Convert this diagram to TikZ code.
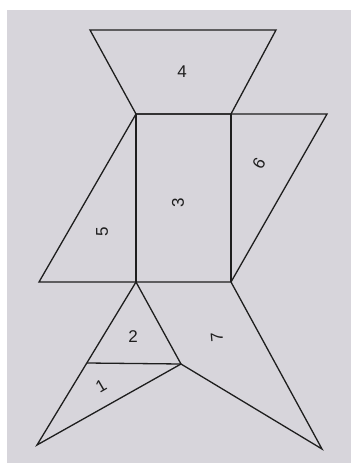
\documentclass[tikz,border=0pt]{standalone}
\usepackage{fontspec}
\setmainfont{Liberation Sans}
\usetikzlibrary{calc}
\definecolor{paper}{HTML}{D7D5DB}
\definecolor{ink}{HTML}{1E1E1E}
\tikzset{
  edge/.style={draw=ink, line width=1.3pt, line join=miter},
  num/.style={font=\fontsize{17pt}{19pt}\selectfont, text=ink, inner sep=0pt},
}
\begin{document}
\begin{tikzpicture}[x=1pt, y=-1pt]
    \useasboundingbox (0,0) rectangle (351,463);
    \fill[white] (0,0) rectangle (351,463);
    \fill[paper] (7,10) rectangle (351,463);
    % corner points
    \coordinate (a) at (90,30);
    \coordinate (b) at (276,30);
    \coordinate (c) at (136,114);
    \coordinate (d) at (231,114);
    \coordinate (e) at (327,114);
    \coordinate (f) at (136,282);
    \coordinate (g) at (231,282);
    \coordinate (h) at (39,282);
    \coordinate (i) at (87,363);
    \coordinate (j) at (181,364);
    \coordinate (k) at (37,445);
    \coordinate (l) at (322,449);
    % pieces
    \draw[edge] (a) -- (b) -- (d) -- (c) -- cycle;
    \draw[edge] (c) -- (e) -- (g) -- (f) -- (h) -- cycle;
    \draw[edge] (c) -- (f);
    \draw[edge] (d) -- (g);
    \draw[edge] (f) -- (k) -- (j) -- cycle;
    \draw[edge] (i) -- (j);
    \draw[edge] (j) -- (l) -- (g);
    % numbers
    \node[num] (n4) at (182,72) {4};
    \node[num, rotate=90] (n3) at (178,203) {3};
    \node[num, rotate=60] (n6) at (259,163) {6};
    \node[num, rotate=90] (n5) at (102,232) {5};
    \node[num] (n2) at (133,337) {2};
    \node[num, rotate=30] (n1) at (101,386) {1};
    \node[num, rotate=95] (n7) at (217,337) {7};
\end{tikzpicture}
\end{document}
